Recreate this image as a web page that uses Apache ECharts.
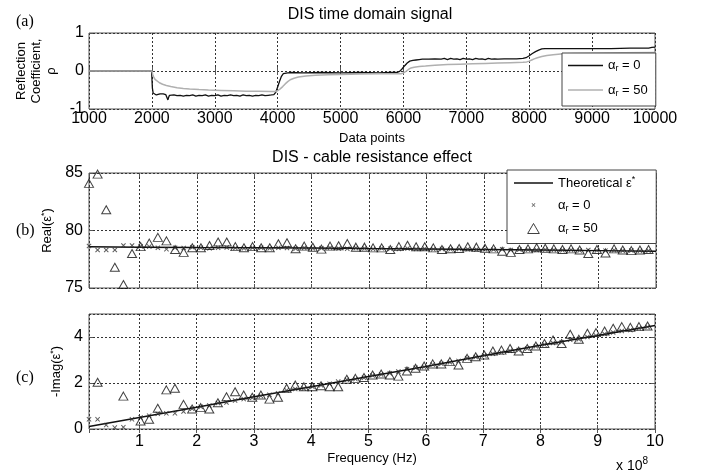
<!DOCTYPE html>
<html><head><meta charset="utf-8">
<script src="https://cdn.jsdelivr.net/npm/echarts@6/dist/echarts.min.js"></script>
<style>html,body{margin:0;padding:0;background:#fff}#c{width:701px;height:476px}</style>
</head><body><div id="c"></div>
<script>
// ---------- Panel (a): time domain signal ----------
const aX0 = [1000,1995,2000,2008,2020,2040,2070,2100,2130,2160,2180,2200,2220,2240,2255,2265,2280,2310,2350,2400,2450,2500,2550,2600,2650,2700,2750,2800,2850,2900,2950,3000,3050,3100,3150,3200,3250,3300,3350,3400,3450,3500,3550,3600,3650,3700,3750,3800,3850,3900,3940,3970,4000,4030,4060,4090,4120,4160,4200,4400,4700,5000,5300,5600,5800,5900,5940,5980,6020,6060,6100,6150,6200,6250,6300,6400,6500,6600,6650,6700,6750,6800,6850,6900,6950,7000,7050,7100,7150,7200,7250,7300,7350,7400,7450,7500,7600,7700,7800,7900,7950,8000,8050,8100,8150,8200,8250,8300,8500,8800,9000,9300,9600,9900,9950,10000];
const aY0 = [0,0,-0.05,-0.45,-0.58,-0.62,-0.63,-0.62,-0.6,-0.58,-0.6,-0.64,-0.62,-0.66,-0.76,-0.7,-0.64,-0.65,-0.63,-0.65,-0.64,-0.66,-0.64,-0.65,-0.63,-0.66,-0.64,-0.65,-0.63,-0.66,-0.64,-0.65,-0.63,-0.66,-0.64,-0.65,-0.63,-0.65,-0.64,-0.66,-0.63,-0.65,-0.64,-0.66,-0.64,-0.65,-0.63,-0.65,-0.64,-0.63,-0.62,-0.56,-0.42,-0.27,-0.14,-0.07,-0.05,-0.05,-0.04,-0.05,-0.04,-0.05,-0.04,-0.05,-0.04,-0.04,-0.01,0.06,0.14,0.21,0.26,0.28,0.29,0.3,0.31,0.31,0.32,0.31,0.33,0.3,0.33,0.31,0.32,0.3,0.33,0.31,0.32,0.3,0.33,0.31,0.32,0.3,0.33,0.31,0.32,0.31,0.32,0.32,0.32,0.33,0.35,0.4,0.46,0.51,0.55,0.58,0.59,0.59,0.59,0.59,0.59,0.59,0.6,0.6,0.62,0.63];
const aX50 = [1000,2000,2005,2015,2030,2050,2080,2120,2170,2230,2300,2400,2500,2600,2750,2900,3100,3300,3500,3700,3900,3960,4000,4040,4080,4120,4160,4200,4260,4330,4450,4600,4800,5000,5300,5600,5900,5960,6000,6040,6080,6120,6170,6250,6350,6500,6700,6900,7100,7300,7500,7700,7900,7960,8000,8040,8080,8130,8200,8280,8380,8500,8700,9000,9500,10000];
const aY50 = [0,0,-0.04,-0.1,-0.16,-0.22,-0.27,-0.31,-0.35,-0.38,-0.41,-0.44,-0.46,-0.475,-0.49,-0.5,-0.51,-0.52,-0.53,-0.535,-0.54,-0.54,-0.52,-0.47,-0.41,-0.34,-0.28,-0.23,-0.19,-0.16,-0.13,-0.11,-0.1,-0.09,-0.08,-0.075,-0.07,-0.07,-0.05,-0.01,0.04,0.08,0.1,0.12,0.13,0.15,0.17,0.18,0.19,0.2,0.21,0.22,0.23,0.24,0.26,0.29,0.32,0.35,0.38,0.41,0.43,0.45,0.46,0.47,0.48,0.49];

// ---------- Panels (b), (c): frequency domain (x in units of 1e8 Hz) ----------
const freq = [0.12,0.27,0.42,0.57,0.72,0.87,1.02,1.17,1.32,1.47,
  1.62,1.77,1.92,2.07,2.22,2.37,2.52,2.67,2.82,2.97,
  3.12,3.27,3.42,3.57,3.72,3.87,4.02,4.17,4.32,4.47,
  4.62,4.77,4.92,5.07,5.22,5.37,5.52,5.67,5.82,5.97,
  6.12,6.27,6.42,6.57,6.72,6.87,7.02,7.17,7.32,7.47,
  7.62,7.77,7.92,8.07,8.22,8.37,8.52,8.67,8.82,8.97,
  9.12,9.27,9.42,9.57,9.72,9.87];
const real0 = [78.65,78.3,78.3,78.3,78.7,78.7,78.62,78.6,78.5,78.38,
  78.5,78.48,78.55,78.5,78.45,78.5,78.52,78.48,78.45,78.5,
  78.5,78.45,78.5,78.48,78.42,78.5,78.46,78.45,78.5,78.44,
  78.42,78.48,78.45,78.4,78.45,78.42,78.4,78.44,78.4,78.42,
  78.38,78.4,78.36,78.4,78.38,78.35,78.38,78.34,78.36,78.3,
  78.34,78.32,78.3,78.34,78.3,78.28,78.3,78.26,78.3,78.27,
  78.25,78.28,78.24,78.26,78.23,78.25];
const real50 = [84.1,84.9,81.8,76.8,75.3,78.0,78.6,78.9,79.4,79.1,
  78.35,78.1,78.5,78.5,78.7,79.0,79.0,78.6,78.5,78.6,
  78.5,78.5,78.85,78.93,78.41,78.64,78.55,78.38,78.64,78.67,
  78.87,78.55,78.55,78.49,78.49,78.35,78.6,78.72,78.58,78.58,
  78.49,78.35,78.41,78.43,78.58,78.55,78.45,78.4,78.2,78.1,
  78.35,78.4,78.5,78.45,78.4,78.35,78.4,78.3,78.0,78.35,
  78.05,78.4,78.3,78.25,78.3,78.35];
const imag0 = [0.42,0.42,0.17,0.06,0.08,0.42,0.5,0.58,0.66,0.68,
  0.68,0.76,0.88,0.97,1.02,1.13,1.15,1.24,1.3,1.36,
  1.44,1.49,1.55,1.68,1.74,1.76,1.84,1.9,1.97,2.06,
  2.14,2.17,2.23,2.33,2.37,2.42,2.5,2.6,2.66,2.7,
  2.8,2.84,2.9,2.96,3.08,3.13,3.2,3.27,3.33,3.4,
  3.43,3.5,3.6,3.67,3.74,3.77,3.88,3.9,4.0,4.06,
  4.13,4.2,4.26,4.3,4.38,4.44];
const imag50 = [null,2.03,null,null,1.43,null,0.35,0.42,0.9,1.7,
  1.77,1.07,0.87,0.93,0.87,1.14,1.4,1.62,1.48,1.38,
  1.48,1.3,1.38,1.77,1.91,1.84,1.84,1.88,1.84,1.84,
  2.16,2.2,2.24,2.35,2.39,2.35,2.3,2.52,2.64,2.74,
  2.83,2.83,2.93,2.78,3.07,3.14,3.22,3.39,3.43,3.5,
  3.39,3.5,3.61,3.72,3.87,3.72,4.12,3.9,4.16,4.19,
  4.26,4.38,4.45,4.42,4.45,4.48];
const thFreq = [0.12,1,2,3,4,5,6,7,8,9,10];
const thReal = [78.58,78.55,78.52,78.5,78.47,78.43,78.4,78.35,78.3,78.25,78.2];
const thImag = [0.11,0.5,0.95,1.4,1.84,2.28,2.72,3.18,3.64,4.07,4.5];

// tick settings
const aXTicks = {min:1000, max:10000, interval:1000};
const aYTicks = {min:-1, max:1, interval:1};
const fXTicks = {min:0.12, max:10, splitNumber:10};
const bYTicks = {min:75, max:85, interval:5};
const cYTicks = {min:0, max:5, interval:2};

// ---------- build ----------
const F = '"Liberation Sans", Arial, Helvetica, sans-serif';
const SERIF = '"Liberation Serif", "Times New Roman", serif';
const pairs = (xs, ys) => xs.map((x,i)=>[x, ys[i]]).filter(p => p[1] !== null);
const split = {show:true, lineStyle:{color:'#333', type:[2,2], width:1}};
const tick = {show:true, inside:true, length:4, lineStyle:{color:'#555', width:1}};
const plain = v => String(v);
const lab = (extra) => Object.assign({fontSize:16, color:'#000', fontFamily:F, formatter:plain}, extra||{});
const nameTS = {fontSize:13, color:'#000', fontFamily:F};
const richName = {
  n:{fontSize:13, lineHeight:16, fontFamily:F, color:'#000'},
  sup:{fontSize:9, lineHeight:9, verticalAlign:'top', fontFamily:F, color:'#000'}
};
const XICON = 'path://M0,1.4L1.4,0L5,3.6L8.6,0L10,1.4L6.4,5L10,8.6L8.6,10L5,6.4L1.4,10L0,8.6L3.6,5Z';
const XICON_LEG = 'path://M-8,-8M18,18M0,1.4L1.4,0L5,3.6L8.6,0L10,1.4L6.4,5L10,8.6L8.6,10L5,6.4L1.4,10L0,8.6L3.6,5Z';
const TRI = 'path://M5,0L10,8.6L0,8.6Z';
const LINE13 = 'path://M0,0L35,0L35,1.3L0,1.3Z';
const LINE15 = 'path://M0,0L35,0L35,1.6L0,1.6Z';
const LINEB = 'path://M0,0L39,0L39,1.5L0,1.5Z';

function mainX(g, t, extra){ return Object.assign({gridIndex:g, type:'value', position:'bottom', axisLine:{show:false}, axisTick:tick, splitLine:split}, t, extra); }
function topX(g, t){ return Object.assign({gridIndex:g, type:'value', position:'top', axisLine:{show:false}, axisTick:tick, axisLabel:{show:false}, splitLine:{show:false}}, t); }
function mainY(g, t, extra){ return Object.assign({gridIndex:g, type:'value', position:'left', axisLine:{show:false}, axisTick:tick, splitLine:split}, t, extra); }
function rightY(g, t){ return Object.assign({gridIndex:g, type:'value', position:'right', axisLine:{show:false}, axisTick:tick, axisLabel:{show:false}, splitLine:{show:false}}, t); }

const legendText = {
  a0:'{a|α}{s|r}{a| = 0}', a50:'{a|α}{s|r}{a| = 50}',
  thB:'{a|Theoretical ε}{p|*}', b0:'{a|α}{s|r}{a| = 0}', b50:'{a|α}{s|r}{a| = 50}'
};
const legRich = {
  a:{fontSize:13, lineHeight:16, fontFamily:F, color:'#000'},
  s:{fontSize:9, lineHeight:9, verticalAlign:'bottom', fontFamily:F, color:'#000'},
  p:{fontSize:9, lineHeight:9, verticalAlign:'top', fontFamily:F, color:'#000'}
};
const legBase = {orient:'vertical', backgroundColor:'#fff', borderColor:'#444', borderWidth:1, borderRadius:0,
  itemHeight:10, selectedMode:false, formatter:n=>legendText[n], textStyle:{rich:legRich, color:'#000'}};

const gridBase = {show:true, borderColor:'#555', borderWidth:1, backgroundColor:'#fff', containLabel:false, outerBoundsMode:'none'};

const option = {
  animation:false,
  backgroundColor:'#fff',
  grid:[
    Object.assign({left:89, top:33, width:566, height:76}, gridBase),
    Object.assign({left:89, top:173, width:567, height:115}, gridBase),
    Object.assign({left:89, top:314, width:566, height:115}, gridBase)
  ],
  xAxis:[
    mainX(0, aXTicks, {axisLabel:lab({margin:2}), name:'Data points', nameLocation:'middle', nameGap:23, nameTextStyle:nameTS}),
    topX(0, aXTicks),
    mainX(1, fXTicks, {axisLabel:{show:false}}),
    topX(1, fXTicks),
    mainX(2, fXTicks, {axisLabel:lab({margin:5, showMinLabel:false}), name:'Frequency (Hz)', nameLocation:'middle', nameGap:23, nameTextStyle:nameTS}),
    topX(2, fXTicks)
  ],
  yAxis:[
    mainY(0, aYTicks, {axisLabel:lab({margin:5}), name:'Reflection\nCoefficient,\nρ', nameLocation:'middle', nameRotate:90, nameGap:29, nameTextStyle:Object.assign({lineHeight:15}, nameTS)}),
    rightY(0, aYTicks),
    mainY(1, bYTicks, {axisLabel:lab({margin:6}), name:'{n|Real(ε}{sup|*}{n|)}', nameLocation:'middle', nameRotate:90, nameGap:27, nameTextStyle:{rich:richName}}),
    rightY(1, bYTicks),
    mainY(2, cYTicks, {axisLabel:lab({margin:6, showMaxLabel:false}), name:'{n|-Imag(ε}{sup|*}{n|)}', nameLocation:'middle', nameRotate:90, nameGap:20, nameTextStyle:{rich:richName}}),
    rightY(2, cYTicks)
  ],
  legend:[
    Object.assign({data:[{name:'a0', icon:LINE13},{name:'a50', icon:LINE15}], left:562, top:53, padding:[6,8,8,6], itemGap:10, itemWidth:35}, legBase),
    Object.assign({data:[{name:'thB', icon:LINEB},{name:'b0', icon:XICON_LEG},
      {name:'b50', icon:TRI, itemStyle:{color:'rgba(255,255,255,0)', borderColor:'#111', borderWidth:1}}],
      left:507, top:170, padding:[5,21,7,7], itemGap:9, itemWidth:39}, legBase)
  ],
  series:[
    {name:'a0', type:'line', xAxisIndex:0, yAxisIndex:0, data:pairs(aX0,aY0), symbol:'none', lineStyle:{color:'#111', width:1.3}, itemStyle:{color:'#111'}, z:2},
    {name:'a50', type:'line', xAxisIndex:0, yAxisIndex:0, data:pairs(aX50,aY50), symbol:'none', lineStyle:{color:'#b0b0b0', width:1.5}, itemStyle:{color:'#b0b0b0'}, z:3},
    {name:'thB', type:'line', xAxisIndex:2, yAxisIndex:2, data:pairs(thFreq,thReal), symbol:'none', lineStyle:{color:'#111', width:1.5}, itemStyle:{color:'#111'}, z:2},
    {name:'b0', type:'scatter', xAxisIndex:2, yAxisIndex:2, data:pairs(freq,real0), symbol:XICON, symbolSize:5, itemStyle:{color:'#333'}, z:3},
    {name:'b50', type:'scatter', xAxisIndex:2, yAxisIndex:2, data:pairs(freq,real50), symbol:'triangle', symbolSize:[9,8], itemStyle:{color:'rgba(255,255,255,0)', borderColor:'#111', borderWidth:1}, z:4},
    {name:'thC', type:'line', xAxisIndex:4, yAxisIndex:4, data:pairs(thFreq,thImag), symbol:'none', lineStyle:{color:'#111', width:1.5}, itemStyle:{color:'#111'}, z:2},
    {name:'c0', type:'scatter', xAxisIndex:4, yAxisIndex:4, data:pairs(freq,imag0), symbol:XICON, symbolSize:5, itemStyle:{color:'#333'}, z:3},
    {name:'c50', type:'scatter', xAxisIndex:4, yAxisIndex:4, data:pairs(freq,imag50), symbol:'triangle', symbolSize:[9,8], itemStyle:{color:'rgba(255,255,255,0)', borderColor:'#111', borderWidth:1}, z:4}
  ],
  graphic:[
    {type:'text', x:370, y:15, style:{text:'DIS time domain signal', fontSize:16, fontFamily:F, fill:'#000', align:'center', verticalAlign:'middle', textAlign:'center', textVerticalAlign:'middle'}},
    {type:'text', x:372, y:158, style:{text:'DIS - cable resistance effect', fontSize:16, fontFamily:F, fill:'#000', align:'center', verticalAlign:'middle', textAlign:'center', textVerticalAlign:'middle'}},
    {type:'text', x:16, y:22, style:{text:'(a)', fontSize:16, fontFamily:SERIF, fill:'#000', align:'left', verticalAlign:'middle', textAlign:'left', textVerticalAlign:'middle'}},
    {type:'text', x:16, y:231, style:{text:'(b)', fontSize:16, fontFamily:SERIF, fill:'#000', align:'left', verticalAlign:'middle', textAlign:'left', textVerticalAlign:'middle'}},
    {type:'text', x:16, y:378, style:{text:'(c)', fontSize:16, fontFamily:SERIF, fill:'#000', align:'left', verticalAlign:'middle', textAlign:'left', textVerticalAlign:'middle'}},
    {type:'text', x:616, y:466, style:{text:'{m|x 10}{e|8}', fill:'#000', align:'left', verticalAlign:'middle', textAlign:'left', textVerticalAlign:'middle',
      rich:{m:{fontSize:14, lineHeight:20, fontFamily:F, fill:'#000', color:'#000'}, e:{fontSize:10, lineHeight:10, verticalAlign:'top', fontFamily:F, fill:'#000', color:'#000'}}}}
  ]
};
const chart = echarts.init(document.getElementById('c'), null, {renderer:'canvas'});
chart.setOption(option);
</script></body></html>
